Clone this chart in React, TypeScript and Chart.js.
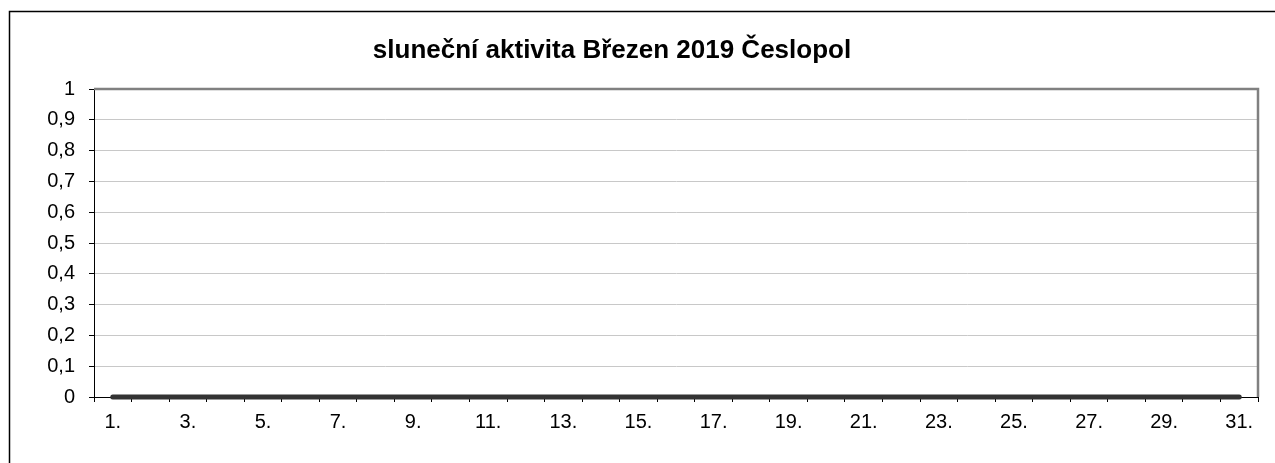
import React, { useEffect, useRef } from "react";
import { Chart, registerables } from "chart.js";

Chart.register(...registerables);

const TITLE = "sluneční aktivita Březen 2019 Česlopol";
const days = [
  "1.", "2.", "3.", "4.", "5.", "6.", "7.", "8.", "9.", "10.",
  "11.", "12.", "13.", "14.", "15.", "16.", "17.", "18.", "19.", "20.",
  "21.", "22.", "23.", "24.", "25.", "26.", "27.", "28.", "29.", "30.", "31.",
];
const activity = [
  0, 0, 0, 0, 0, 0, 0, 0, 0, 0,
  0, 0, 0, 0, 0, 0, 0, 0, 0, 0,
  0, 0, 0, 0, 0, 0, 0, 0, 0, 0, 0,
];
const yMin = 0;
const yMax = 1;
const yStep = 0.1;

const FONT = "'Liberation Sans', Arial, sans-serif";

const decorPlugin = {
  id: "decor",
  beforeDraw(chart: any) {
    const ctx = chart.ctx;
    ctx.save();
    ctx.fillStyle = "#ffffff";
    ctx.fillRect(0, 0, chart.width, chart.height);
    ctx.strokeStyle = "#000000";
    ctx.lineWidth = 1.5;
    ctx.beginPath();
    ctx.moveTo(9.5, chart.height);
    ctx.lineTo(9.5, 11.5);
    ctx.lineTo(chart.width, 11.5);
    ctx.stroke();
    ctx.fillStyle = "#000000";
    ctx.font = `bold 26px ${FONT}`;
    ctx.textAlign = "center";
    ctx.textBaseline = "middle";
    ctx.fillText(TITLE, 612, 51);
    ctx.restore();
  },
  afterDatasetsDraw(chart: any) {
    const ctx = chart.ctx;
    const a = chart.chartArea;
    ctx.save();
    ctx.strokeStyle = "#808080";
    ctx.lineWidth = 2.5;
    ctx.beginPath();
    ctx.moveTo(a.left, a.top);
    ctx.lineTo(a.right, a.top);
    ctx.lineTo(a.right, a.bottom);
    ctx.stroke();
    ctx.restore();
  },
};

export default function App() {
  const ref = useRef<HTMLCanvasElement | null>(null);
  useEffect(() => {
    if (!ref.current) return;
    const chart = new Chart(ref.current, {
      type: "line",
      data: {
        labels: days,
        datasets: [
          {
            data: activity,
            borderColor: "#333333",
            borderWidth: 5,
            borderCapStyle: "round",
            pointRadius: 0,
            clip: false,
          } as any,
        ],
      },
      options: {
        responsive: false,
        animation: false,
        layout: { padding: { left: 0, right: 17, top: 89, bottom: 0 } },
        plugins: { legend: { display: false }, title: { display: false }, tooltip: { enabled: false } },
        scales: {
          x: {
            offset: true,
            afterFit: (s: any) => { s.height = 66; },
            grid: {
              offset: true,
              drawOnChartArea: false,
              drawTicks: true,
              tickLength: 5,
              tickColor: "#000000",
              color: "#000000",
            },
            border: { color: "#000000", width: 1 },
            ticks: {
              autoSkip: false,
              maxRotation: 0,
              padding: 8,
              color: "#000000",
              font: { family: FONT, size: 20 },
              callback: (_v: any, i: number) => (i % 2 === 0 ? days[i] : ""),
            },
          },
          y: {
            min: yMin,
            max: yMax,
            afterFit: (s: any) => { s.width = 94; },
            grid: {
              color: "#c8c8c8",
              tickColor: "#000000",
              tickLength: 5,
              lineWidth: 1,
            },
            border: { color: "#000000", width: 1 },
            ticks: {
              stepSize: yStep,
              padding: 14,
              color: "#000000",
              font: { family: FONT, size: 20 },
              callback: (v: any) => String(Number(Number(v).toFixed(1))).replace(".", ","),
            },
          },
        },
      },
      plugins: [decorPlugin],
    });
    return () => chart.destroy();
  }, []);
  return (
    <div style={{ position: "fixed", left: 0, top: 0, width: 1275, height: 463, background: "#fff" }}>
      <canvas ref={ref} width={1275} height={463} style={{ display: "block" }} />
    </div>
  );
}
